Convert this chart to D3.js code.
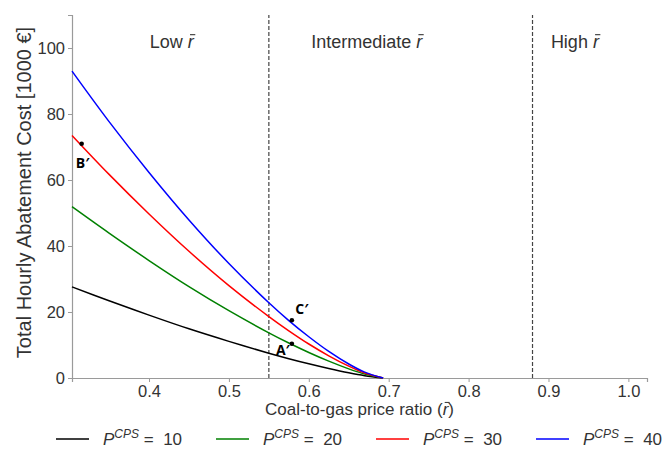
<!DOCTYPE html>
<html>
<head>
<meta charset="utf-8">
<script src="https://cdn.jsdelivr.net/npm/d3@7"></script>
<style>
  html, body { margin: 0; padding: 0; background: #fff; }
  svg { display: block; font-family: "Liberation Sans", Arial, sans-serif; }
</style>
</head>
<body>
<svg id="chart" width="664" height="450"></svg>
<script>
// Coal-to-gas price ratio samples
const ratio = [0.3036, 0.35, 0.40, 0.45, 0.50, 0.55, 0.575, 0.60, 0.625, 0.65, 0.67, 0.693];
// Total hourly abatement cost [1000 €] for each carbon price support level
const cost10 = [27.6, 23.4, 19.05, 14.9, 11.1, 7.5, 5.84, 4.29, 2.86, 1.57, 0.70, 0];
const cost20 = [51.9, 43.9, 35.6, 27.7, 20.4, 13.7, 10.6, 7.73, 5.10, 2.77, 1.21, 0];
const cost30 = [73.5, 61.7, 49.7, 38.4, 28.0, 18.6, 14.3, 10.3, 6.72, 3.59, 1.52, 0];
const cost40 = [93.0, 77.7, 62.3, 47.9, 34.7, 22.8, 17.4, 12.5, 8.05, 4.24, 1.77, 0];
const cpsLevels = [10, 20, 30, 40];
const seriesColors = ["#000000", "#008000", "#ff0000", "#0000ff"];
const xTicks = [0.4, 0.5, 0.6, 0.7, 0.8, 0.9, 1.0];
const yTicks = [0, 20, 40, 60, 80, 100];
// Regime boundaries and labels
const boundaries = [0.55, 0.88];
const regimeNames = ["Low", "Intermediate", "High"];
const regimeStarts = [0.401, 0.603, 0.903];
// Marked points
const pointNames = ["A\u2032", "B\u2032", "C\u2032"];
const pointRatio = [0.5788, 0.3157, 0.5788];
const pointCost = [10.4, 71.0, 17.5];

const svg = d3.select("#chart");
const margin = { left: 72, right: 17, top: 15, bottom: 72 };
const W = 664, H = 450;

const x = d3.scaleLinear().domain([0.3036, 1.0233]).range([margin.left, W - margin.right]);
const y = d3.scaleLinear().domain([0, 110]).range([H - margin.bottom, margin.top]);

const spineColor = "#9a9a9a";
const textColor = "#333";

// Axes
const xAxis = svg.append("g")
  .attr("transform", `translate(0,${y(0)})`)
  .call(d3.axisBottom(x).tickValues(xTicks).tickFormat(d3.format(".1f")).tickSize(4).tickPadding(3));
const yAxis = svg.append("g")
  .attr("transform", `translate(${x.range()[0]},0)`)
  .call(d3.axisLeft(y).tickValues(yTicks).tickSize(4).tickPadding(3));
[xAxis, yAxis].forEach(g => {
  g.select(".domain").attr("stroke", spineColor).attr("stroke-width", 1.2);
  g.selectAll(".tick line").attr("stroke", spineColor);
  g.selectAll(".tick text").attr("fill", textColor).attr("font-size", 16.5)
    .attr("font-family", "Liberation Sans, Arial, sans-serif");
});

// Regime boundaries
svg.selectAll(".boundary").data(boundaries).join("line")
  .attr("x1", d => x(d)).attr("x2", d => x(d))
  .attr("y1", y(0)).attr("y2", y(110))
  .attr("stroke", "#444").attr("stroke-width", 1.2)
  .attr("stroke-dasharray", "4,2");

// Draws a bar over the character at index idx of a text node (the r-bar symbol)
function overbar(textSel, idx, size) {
  textSel.each(function () {
    const node = this;
    const ext = node.getExtentOfChar(idx);
    const base = +node.getAttribute("y");
    d3.select(node.parentNode).append("line")
      .attr("x1", ext.x + size * 0.12).attr("x2", ext.x + ext.width + size * 0.08)
      .attr("y1", base - size * 0.74).attr("y2", base - size * 0.74)
      .attr("stroke", textColor).attr("stroke-width", Math.max(1, size * 0.06));
  });
}

// Regime labels with r-bar
const rl = svg.selectAll(".regime").data(regimeNames).join("text")
  .attr("class", "regime")
  .attr("x", (d, i) => x(regimeStarts[i]))
  .attr("y", 48)
  .attr("font-size", 18)
  .attr("fill", textColor);
rl.append("tspan").text(d => d + " ");
rl.append("tspan").attr("font-style", "italic").text("r");
rl.each(function (d) { overbar(d3.select(this), d.length + 1, 18); });

// Curves
const allCosts = [cost10, cost20, cost30, cost40];
const line = d3.line().x(d => x(d[0])).y(d => y(d[1])).curve(d3.curveCatmullRom.alpha(0.5));
allCosts.forEach((vals, i) => {
  svg.append("path")
    .datum(ratio.map((r, j) => [r, vals[j]]))
    .attr("fill", "none")
    .attr("stroke", seriesColors[i])
    .attr("stroke-width", 1.5)
    .attr("d", line);
});

// Marked points
svg.selectAll(".pt").data(pointNames).join("circle")
  .attr("cx", (d, i) => x(pointRatio[i]))
  .attr("cy", (d, i) => y(pointCost[i]))
  .attr("r", 2.3)
  .attr("fill", "#000");
const labelOffsets = [[-9, 6], [1, 19], [10, -11]];
svg.selectAll(".ptlabel").data(pointNames).join("text")
  .attr("x", (d, i) => x(pointRatio[i]) + labelOffsets[i][0])
  .attr("y", (d, i) => y(pointCost[i]) + labelOffsets[i][1])
  .attr("text-anchor", "middle")
  .attr("dy", "0.35em")
  .attr("font-size", 14)
  .attr("font-weight", "bold")
  .attr("font-family", "Open Sans, DejaVu Sans, sans-serif")
  .text(d => d);

// Axis titles
const xt = svg.append("text")
  .attr("x", (x(0.3036) + x(1.0233)) / 2)
  .attr("y", 415)
  .attr("text-anchor", "middle")
  .attr("font-size", 17)
  .attr("fill", textColor);
xt.append("tspan").text("Coal-to-gas price ratio (");
xt.append("tspan").attr("font-style", "italic").text("r");
xt.append("tspan").text(")");
overbar(xt, "Coal-to-gas price ratio (".length, 17);

svg.append("text")
  .attr("transform", `translate(31,${(y(0) + y(110)) / 2 - 4}) rotate(-90)`)
  .attr("text-anchor", "middle")
  .attr("font-size", 20)
  .attr("fill", textColor)
  .text("Total Hourly Abatement Cost [1000 \u20ac]");

// Legend
const legend = svg.append("g");
cpsLevels.forEach((lvl, i) => {
  const x0 = 56 + i * 160;
  legend.append("line")
    .attr("x1", x0).attr("x2", x0 + 33)
    .attr("y1", 439).attr("y2", 439)
    .attr("stroke", seriesColors[i]).attr("stroke-width", 1.5);
  const t = legend.append("text")
    .attr("x", x0 + 47).attr("y", 445)
    .attr("font-size", 17).attr("fill", textColor);
  t.append("tspan").attr("font-style", "italic").text("P");
  t.append("tspan").attr("font-style", "italic").attr("font-size", 12).attr("dy", -7).text("CPS");
  t.append("tspan").attr("dy", 7).text("\u00a0=\u00a0 " + lvl);
});
</script>
</body>
</html>
